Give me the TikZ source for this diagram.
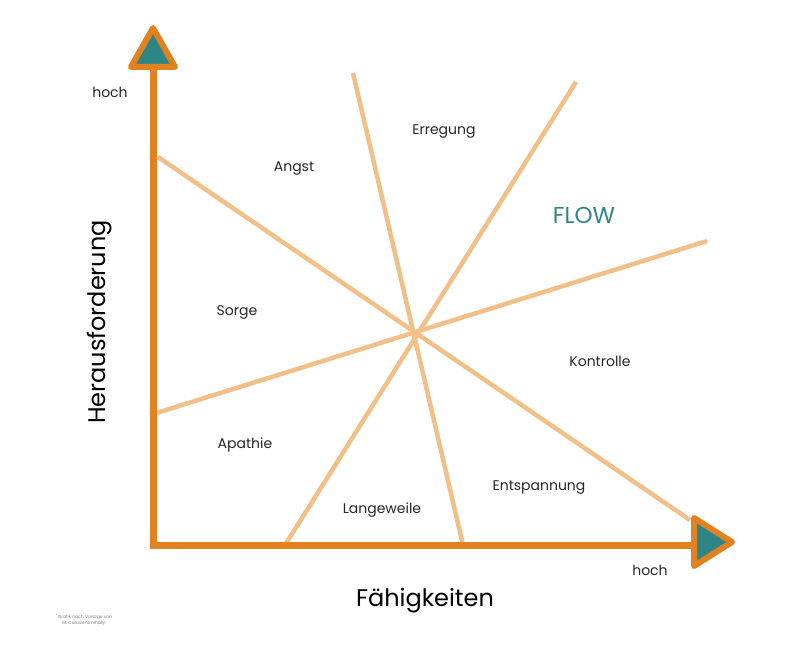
\documentclass[tikz,border=0pt]{standalone}
\usepackage{fontspec}
\setmainfont{Poppins}
\definecolor{ax}{HTML}{E2811F}
\definecolor{tl}{HTML}{2E8585}
\definecolor{ln}{HTML}{F1C089}
\begin{document}
\begin{tikzpicture}[x=1pt,y=-1pt,
  lbl/.style={font=\fontsize{14}{16}\selectfont, text=black!85},
  zone/.style={ln, line width=4.5pt},
  tri/.style={draw=ax, fill=tl, line width=6pt, line join=round}]
\useasboundingbox (0,0) rectangle (790,663);
% light lines
\coordinate (a1) at (158,157); \coordinate (b1) at (690,520);
\coordinate (a2) at (150,415); \coordinate (b2) at (707,241);
\coordinate (a3) at (353,73);  \coordinate (b3) at (463,545);
\coordinate (a4) at (576,82);  \coordinate (b4) at (285,545);
\draw[zone] (a1) -- (b1);
\draw[zone] (a2) -- (b2);
\draw[zone] (a3) -- (b3);
\draw[zone] (a4) -- (b4);
% axes
\coordinate (o) at (153,545);
\coordinate (yt) at (153,68);
\coordinate (xt) at (692,545);
\draw[ax, line width=7pt] (yt) -- (o) -- (xt);
\draw[tri] (131,67) -- (175,67) -- (153,28) -- cycle;
\draw[tri] (694,518) -- (694,566) -- (732,542) -- cycle;
% texts
\node[lbl] (h1) at (110,92) {hoch};
\node[lbl] (h2) at (650,570) {hoch};
\node[rotate=90, font=\fontsize{24}{28}\selectfont] (hf) at (100,322) {Herausforderung};
\node[font=\fontsize{24}{28}\selectfont] (fk) at (425,601) {Fähigkeiten};
\node[lbl] (t1) at (294,169) {Angst};
\node[lbl] (t2) at (444,132) {Erregung};
\node[font=\fontsize{23}{26}\selectfont, text=tl] (t3) at (584,215) {FLOW};
\node[lbl] (t4) at (237,312) {Sorge};
\node[lbl] (t5) at (600,361) {Kontrolle};
\node[lbl] (t6) at (245,445) {Apathie};
\node[lbl] (t7) at (382,510) {Langeweile};
\node[lbl] (t8) at (539,488) {Entspannung};
\node[font=\fontsize{4.5}{6}\selectfont, text=black!50, align=center] (cr) at (84,620) {\textsuperscript{*}Grafik nach Vorlage von\\M. Csikszentmihalyi};
\end{tikzpicture}
\end{document}
